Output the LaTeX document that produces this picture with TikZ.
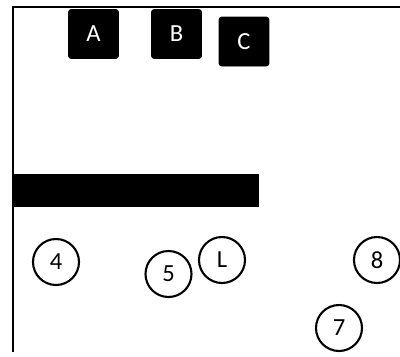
\documentclass[tikz,border=0pt]{standalone}
\usepackage{fontspec}
\setmainfont{Carlito}
\usepackage{tikz}
\usetikzlibrary{positioning}

\begin{document}
\begin{tikzpicture}[
  x=0.02cm, y=-0.02cm,
  frameline/.style={line width=1.2pt, black},
  blockbox/.style={fill=black, draw=black, rounded corners=1.5pt, minimum width=1.0cm, minimum height=0.98cm, inner sep=0pt, text=white, font=\fontsize{14}{16}\selectfont},
  wallbar/.style={fill=black, draw=none, minimum width=4.92cm, minimum height=0.66cm, inner sep=0pt},
  spot/.style={circle, draw=black, line width=1.2pt, fill=white, minimum size=0.92cm, inner sep=0pt, font=\fontsize{14}{16}\selectfont}
]
\useasboundingbox (0,0) rectangle (400,356);
% partial frame
\coordinate (frameTL) at (13,7);
\coordinate (frameTR) at (400,7);
\coordinate (frameBL) at (13,352);
\draw[frameline] (frameTR) -- (frameTL) -- (frameBL);
% top blocks
\node[blockbox] (boxA) at (93.5,34) {A};
\node[blockbox] (boxB) at (176.5,34) {B};
\node[blockbox] (boxC) at (244,41.5) {C};
% bar
\node[wallbar] (bar) at (136,190.5) {};
% circles
\node[spot] (n4) at (56,262) {4};
\node[spot] (n5) at (168.5,274) {5};
\node[spot] (nL) at (222,260) {L};
\node[spot] (n8) at (377,260) {8};
\node[spot] (n7) at (339,328) {7};
\end{tikzpicture}
\end{document}
